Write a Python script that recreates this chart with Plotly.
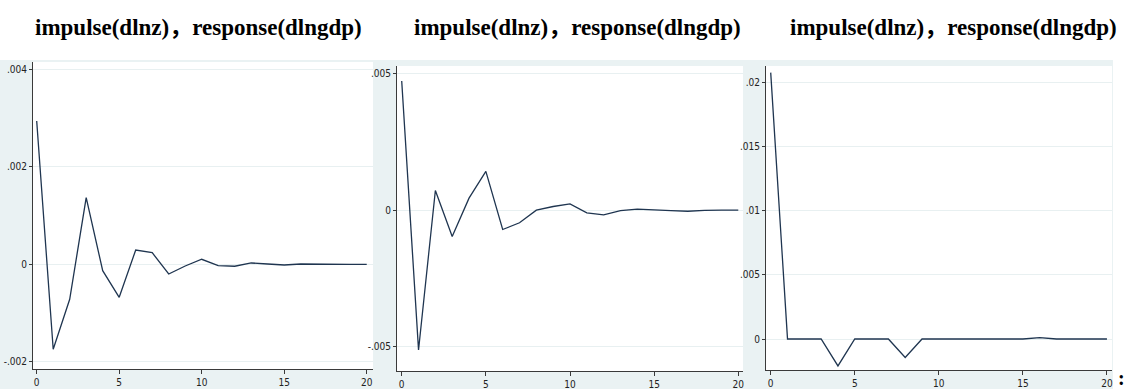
import plotly.graph_objects as go

W, H = 1127, 389

periods = list(range(21))

resp1 = [0.00294, -0.001744, -0.000718, 0.001367, -0.000131, -0.000677, 0.000293, 0.000238,
         -0.000199, -0.000035, 0.000103, -0.000028, -0.00004, 0.000027, 0.000006, -0.000014,
         0.000006, 0.0, -0.000008, 0.0, 0.0]
resp2 = [0.00473, -0.00512, 0.000722, -0.000964, 0.00044, 0.00142, -0.000708, -0.000462,
         0.0, 0.000134, 0.000232, -0.000098, -0.00017, -0.00002, 0.000037, 0.000024,
         -0.000015, -0.00004, -0.000004, 0.0, 0.0]
resp3 = [0.02079, 0.0, 0.0, 0.0, -0.0021, 0.0, 0.0, 0.0, -0.00144, 0.0, 0.0, 0.0, 0.0, 0.0,
         0.0, 0.0, 0.00011, 0.0, 0.0, 0.0, 0.0]

title_text = "impulse(dlnz)，response(dlngdp)"

x_tickvals = [0, 5, 10, 15, 20]
x_ticktext = ["0", "5", "10", "15", "20"]
y1_tickvals = [-0.002, 0, 0.002, 0.004]
y1_ticktext = ["-.002", "0", ".002", ".004"]
y2_tickvals = [-0.005, 0, 0.005]
y2_ticktext = ["-.005", "0", ".005"]
y3_tickvals = [0, 0.005, 0.01, 0.015, 0.02]
y3_ticktext = ["0", ".005", ".01", ".015", ".02"]

# pixel geometry of the white plot regions: (left, right, top, bottom)
boxes = [(33, 373, 62, 369), (397, 743, 66, 371), (766, 1112, 66, 370)]
xranges = [(-0.224, 20.38), (-0.28, 20.28), (-0.28, 20.3)]
yranges = [(-0.002148, 0.00415), (-0.00589, 0.00528), (-0.00242, 0.02131)]
yticks = [(y1_tickvals, y1_ticktext), (y2_tickvals, y2_ticktext), (y3_tickvals, y3_ticktext)]
series = [resp1, resp2, resp3]

BG = "#EAF2F3"
LINE = "#1f3550"
AX = "#3a3a3a"
tickfont = dict(family="Liberation Sans Narrow, DejaVu Sans Condensed, Arial Narrow, sans-serif",
                size=10, color="#222222")

fig = go.Figure()
layout = dict(width=W, height=H, margin=dict(l=0, r=0, t=0, b=0),
              paper_bgcolor="white", plot_bgcolor="white", showlegend=False)

for i, (box, xr, yr, yt, ys) in enumerate(zip(boxes, xranges, yranges, yticks, series)):
    n = "" if i == 0 else str(i + 1)
    l, r, t, b = box
    fig.add_trace(go.Scatter(x=periods, y=ys, mode="lines",
                             line=dict(color=LINE, width=1.3),
                             xaxis="x" + n, yaxis="y" + n))
    layout["xaxis" + n] = dict(domain=[l / W, r / W], range=list(xr), anchor="y" + n,
                               tickvals=x_tickvals, ticktext=x_ticktext, ticks="outside",
                               ticklen=4, tickcolor=AX, showline=True, linecolor=AX,
                               linewidth=1, showgrid=False, zeroline=False, tickfont=tickfont)
    layout["yaxis" + n] = dict(domain=[1 - b / H, 1 - t / H], range=list(yr), anchor="x" + n,
                               tickvals=yt[0], ticktext=yt[1], ticks="outside", ticklen=3,
                               tickcolor=AX, showline=True, linecolor=AX, linewidth=1,
                               showgrid=True, gridcolor="#E8F0F1", gridwidth=1,
                               zeroline=False, tickfont=tickfont)

shapes = [dict(type="rect", xref="paper", yref="paper", x0=0, x1=1113 / W, y0=0, y1=1 - 60 / H,
               fillcolor=BG, line=dict(width=0), layer="below")]
for (l, r, t, b) in boxes:
    shapes.append(dict(type="rect", xref="paper", yref="paper", x0=l / W, x1=r / W,
                       y0=1 - b / H, y1=1 - t / H, fillcolor="white",
                       line=dict(width=0), layer="below"))
layout["shapes"] = shapes

title_font = dict(family="Liberation Serif, Noto Sans CJK SC, Times New Roman, serif",
                  size=23, color="black")
annotations = []
for cx in [198.5, 577, 953]:
    annotations.append(dict(text="<b>" + title_text + "</b>", x=cx / W, y=1 - 27 / H,
                            xref="paper", yref="paper", showarrow=False,
                            xanchor="center", yanchor="middle", font=title_font))
annotations.append(dict(text="<b>:</b>", x=1121 / W, y=1 - 378 / H, xref="paper", yref="paper",
                        showarrow=False, xanchor="center", yanchor="middle",
                        font=dict(family="Liberation Serif, serif", size=20, color="black")))
layout["annotations"] = annotations

fig.update_layout(**layout)
fig.write_html("out.html")
